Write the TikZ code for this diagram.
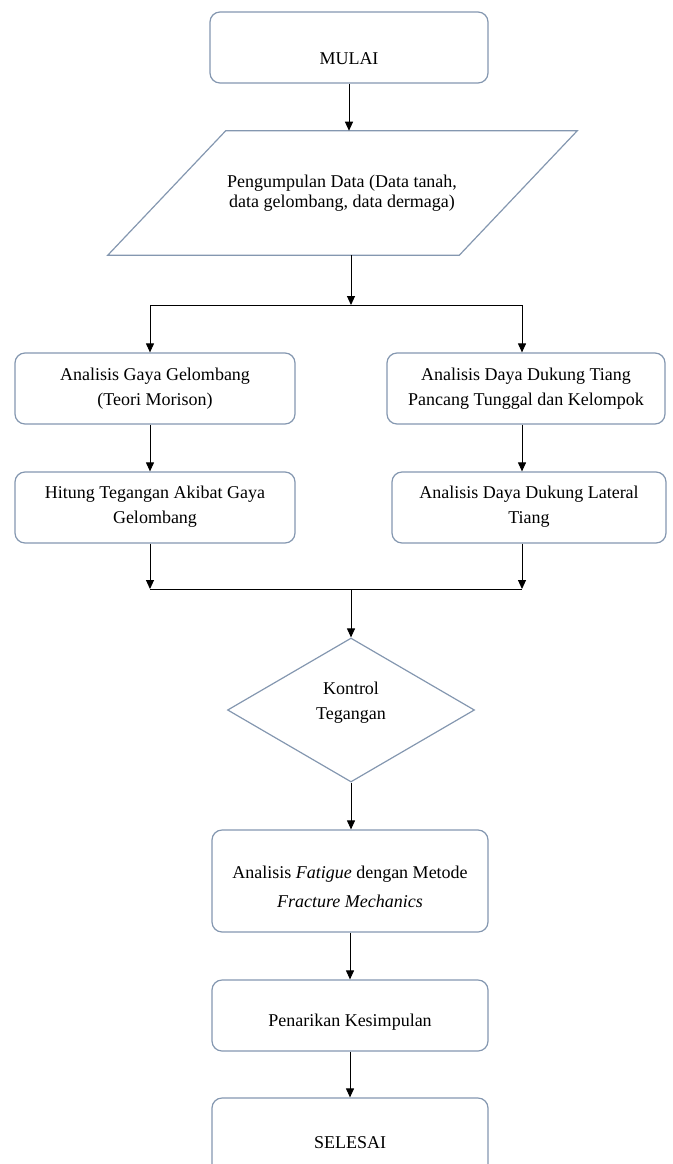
\documentclass[tikz,border=0pt]{standalone}
\usepackage{fontspec}
\setmainfont{Liberation Serif}
\usetikzlibrary{arrows.meta,shapes.geometric}
\definecolor{boxline}{RGB}{132,151,176}
\begin{document}
\begin{tikzpicture}[x=0.75pt,y=-0.75pt,
  rbox/.style={draw=boxline,line width=0.9pt,rounded corners=7.5pt,inner sep=0pt},
  pbox/.style={draw=none,inner sep=0pt},
  dbox/.style={diamond,draw=boxline,line width=0.9pt,inner sep=0pt},
  txt/.style={font=\fontsize{13.5}{18.75}\selectfont,align=center,inner sep=0pt},
  arr/.style={draw=black,line width=0.75pt,-{Triangle[length=6.75pt,width=6pt]}},
  ln/.style={draw=black,line width=0.75pt}]
\useasboundingbox (0,0) rectangle (673,1164);
\clip (0,0) rectangle (673,1164);

% shapes
\node[rbox,minimum width=208.5pt,minimum height=53.25pt] (mulai) at (349,47.5) {};
\node[pbox,minimum width=351.75pt,minimum height=93pt] (data) at (342.5,193) {};
\draw[draw=boxline,line width=0.9pt]
  ([xshift=88.5pt]data.north west) -- (data.north east)
  -- ([xshift=-88.5pt]data.south east) -- (data.south west) -- cycle;
\node[rbox,minimum width=210pt,minimum height=53.25pt] (lg) at (155,388.5) {};
\node[rbox,minimum width=208.5pt,minimum height=53.25pt] (rg) at (526,388.5) {};
\node[rbox,minimum width=210pt,minimum height=53.25pt] (lt) at (155,507.5) {};
\node[rbox,minimum width=205.5pt,minimum height=53.25pt] (rt) at (529,507.5) {};
\node[dbox,minimum width=185.25pt,minimum height=108pt] (dia) at (351,710) {};
\node[rbox,minimum width=207pt,minimum height=76.5pt] (fat) at (350,881) {};
\node[rbox,minimum width=207pt,minimum height=53.25pt] (pen) at (350,1015.5) {};
\node[rbox,minimum width=207pt,minimum height=75pt] (sel) at (350,1148) {};

% texts
\node[txt] (tmulai) at (349,59) {MULAI};
\node[txt,font=\fontsize{13.5}{15}\selectfont] (tdata) at (342,193)
  {Pengumpulan Data (Data tanah,\\data gelombang, data dermaga)};
\node[txt] (tlg) at (155,389) {Analisis Gaya Gelombang\\(Teori Morison)};
\node[txt] (trg) at (526,389) {Analisis Daya Dukung Tiang\\Pancang Tunggal dan Kelompok};
\node[txt] (tlt) at (155,507) {Hitung Tegangan Akibat Gaya\\Gelombang};
\node[txt] (trt) at (529,507) {Analisis Daya Dukung Lateral\\Tiang};
\node[txt] (tdia) at (351,703) {Kontrol\\Tegangan};
\node[txt,font=\fontsize{13.5}{21.75}\selectfont] (tfat) at (350,887)
  {Analisis \textit{Fatigue} dengan Metode\\\textit{Fracture Mechanics}};
\node[txt] (tpen) at (350,1022) {Penarikan Kesimpulan};
\node[txt] (tsel) at (350,1143) {SELESAI};

% junctions
\coordinate (j1) at (351,305);
\coordinate (j1l) at (150,305);
\coordinate (j1r) at (522,305);
\coordinate (j2) at (351,589);
\coordinate (j2l) at (150,589);
\coordinate (j2r) at (522,589);

% connectors
\draw[arr] (mulai.south) -- (mulai.south |- data.north);
\draw[arr] (j1 |- data.south) -- (j1);
\draw[ln] (j1l) -- (j1r);
\draw[arr] (j1l) -- (j1l |- lg.north);
\draw[arr] (j1r) -- (j1r |- rg.north);
\draw[arr] (j1l |- lg.south) -- (j1l |- lt.north);
\draw[arr] (j1r |- rg.south) -- (j1r |- rt.north);
\draw[arr] (j2l |- lt.south) -- (j2l);
\draw[arr] (j2r |- rt.south) -- (j2r);
\draw[ln] (j2l) -- (j2r);
\draw[arr] (j2) -- (dia.north);
\draw[arr] (dia.south) -- (dia.south |- fat.north);
\draw[arr] (fat.south) -- (pen.north);
\draw[arr] (pen.south) -- (sel.north);
\end{tikzpicture}
\end{document}
